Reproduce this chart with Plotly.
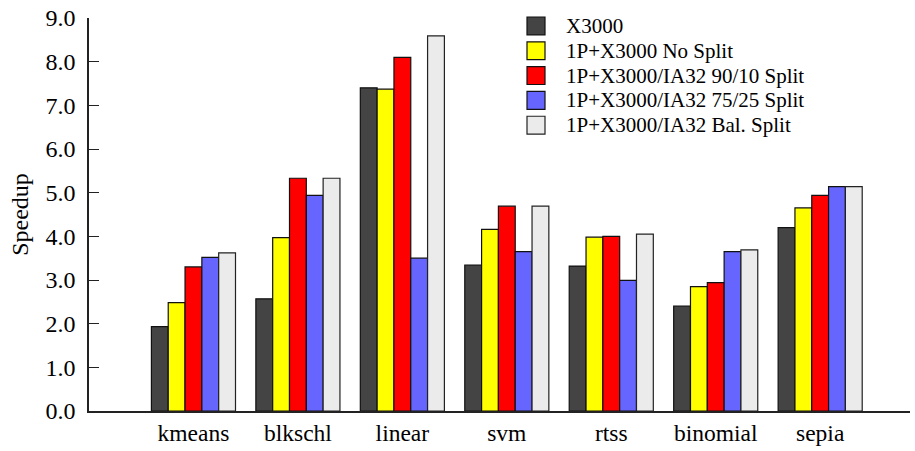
import plotly.graph_objects as go

# Benchmarks along the x axis
categories = ["kmeans", "blkschl", "linear", "svm", "rtss", "binomial", "sepia"]

# Speedup per configuration
x3000 = [1.93, 2.57, 7.40, 3.34, 3.32, 2.40, 4.20]
no_split = [2.48, 3.97, 7.37, 4.16, 3.98, 2.85, 4.65]
split_90_10 = [3.30, 5.33, 8.10, 4.69, 4.00, 2.94, 4.94]
split_75_25 = [3.52, 4.94, 3.50, 3.65, 2.99, 3.65, 5.14]
split_bal = [3.62, 5.33, 8.59, 4.69, 4.05, 3.69, 5.14]

y_ticks = [0, 1, 2, 3, 4, 5, 6, 7, 8, 9]
y_tick_labels = ["0.0", "1.0", "2.0", "3.0", "4.0", "5.0", "6.0", "7.0", "8.0", "9.0"]

series = [
    ("X3000", x3000, "#444444", "#111111"),
    ("1P+X3000 No Split", no_split, "#ffff00", "#111111"),
    ("1P+X3000/IA32 90/10 Split", split_90_10, "#ff0000", "#111111"),
    ("1P+X3000/IA32 75/25 Split", split_75_25, "#6666ff", "#111111"),
    ("1P+X3000/IA32 Bal. Split", split_bal, "#ebebeb", "#222222"),
]

xpos = list(range(len(categories)))
serif = "Liberation Serif, Times New Roman, serif"

W, H = 915, 451
M_L, M_R, M_T, M_B = 89, 5, 15, 40
plot_w = W - M_L - M_R
plot_h = H - M_T - M_B


def px_to_paper_x(px):
    return (px - M_L) / plot_w


def px_to_paper_y(py):
    return (H - M_B - py) / plot_h


fig = go.Figure()
for name, vals, fill, edge in series:
    fig.add_trace(go.Bar(
        x=xpos, y=vals, name=name, showlegend=False,
        marker=dict(color=fill, line=dict(color=edge, width=1.2)),
    ))

# Legend block: square swatches with labels to their right
swatch = 18
row_h = 25
first_row = 23
sw_left = 527
text_left = 564
for i, (name, _, fill, edge) in enumerate(series):
    cy = first_row + i * row_h
    fig.add_shape(
        type="rect", xref="paper", yref="paper",
        x0=px_to_paper_x(sw_left), x1=px_to_paper_x(sw_left + swatch),
        y0=px_to_paper_y(cy + swatch / 2), y1=px_to_paper_y(cy - swatch / 2),
        fillcolor=fill, line=dict(color=edge, width=1.2),
    )
    fig.add_annotation(
        xref="paper", yref="paper",
        x=px_to_paper_x(text_left), y=px_to_paper_y(cy),
        xanchor="left", yanchor="middle", showarrow=False,
        text=name, font=dict(size=21, family=serif, color="black"),
    )

fig.update_layout(
    barmode="group",
    bargap=0.195,
    bargroupgap=0,
    width=W, height=H,
    margin=dict(l=M_L, r=M_R, t=M_T, b=M_B),
    paper_bgcolor="white",
    plot_bgcolor="white",
    font=dict(family=serif, color="black"),
    showlegend=False,
    xaxis=dict(
        tickmode="array", tickvals=xpos, ticktext=categories,
        range=[-1.0, 6.86],
        showline=True, linecolor="#222222", linewidth=1.5,
        ticks="", showgrid=False, zeroline=False,
        tickfont=dict(size=23.5, family=serif),
    ),
    yaxis=dict(
        tickmode="array", tickvals=y_ticks, ticktext=y_tick_labels,
        range=[0, 9],
        showline=True, linecolor="#222222", linewidth=1.5,
        ticks="inside", ticklen=10, tickcolor="#222222", tickwidth=1.2,
        ticklabelstandoff=7,
        showgrid=False, zeroline=False,
        tickfont=dict(size=24, family=serif),
        title=dict(text="Speedup", font=dict(size=24, family=serif), standoff=10),
    ),
)

fig.write_html("out.html")
